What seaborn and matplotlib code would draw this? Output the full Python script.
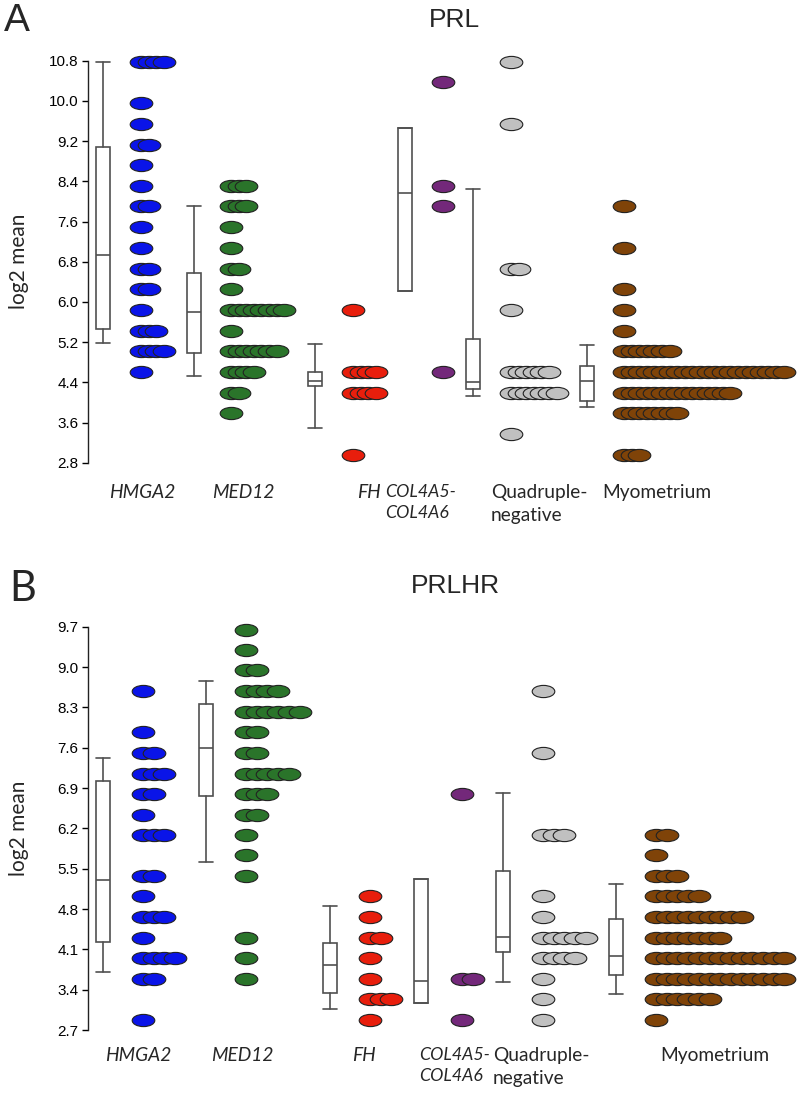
import matplotlib
matplotlib.use("Agg")
import matplotlib.pyplot as plt
from matplotlib.markers import MarkerStyle
from matplotlib.transforms import Affine2D
import seaborn as sns
import pandas as pd

sns.set_style("white")
plt.rcParams["font.family"] = ["Liberation Sans", "DejaVu Sans"]

W, H = 799, 1100

# --- categories / colours
groups = ["HMGA2", "MED12", "FH", "COL4A5-\nCOL4A6", "Quadruple-\nnegative", "Myometrium"]
group_italic = [True, True, True, True, False, False]
group_colors = ["#0A14E8", "#2A742A", "#E81E0C", "#73287A", "#C0C0C0", "#7F4308"]

# --- PRL: (log2 mean, number of samples at that level)
prl_hmga2 = [(10.78, 4), (9.95, 1), (9.54, 1), (9.13, 2), (8.72, 1), (8.31, 1), (7.90, 2),
             (7.49, 1), (7.07, 1), (6.66, 2), (6.25, 2), (5.84, 1), (5.43, 3), (5.02, 4), (4.61, 1)]
prl_med12 = [(8.31, 3), (7.90, 3), (7.49, 1), (7.07, 1), (6.66, 2), (6.25, 1), (5.84, 8),
             (5.43, 1), (5.02, 7), (4.61, 4), (4.19, 2), (3.78, 1)]
prl_fh = [(5.84, 1), (4.61, 4), (4.19, 4), (2.96, 1)]
prl_col = [(10.37, 1), (8.31, 1), (7.90, 1), (4.61, 1)]
prl_quad = [(10.78, 1), (9.54, 1), (6.66, 2), (5.84, 1), (4.61, 6), (4.19, 7), (3.37, 1)]
prl_myo = [(7.90, 1), (7.07, 1), (6.25, 1), (5.84, 1), (5.43, 1), (5.02, 7), (4.61, 22),
           (4.19, 15), (3.78, 8), (2.96, 3)]

# box stats PRL (10th pct, q1, median, q3, 90th pct)
prl_whislo = [5.18, 4.53, 3.49, 6.22, 4.13, 3.91]
prl_q1 = [5.47, 4.99, 4.33, 6.22, 4.27, 4.03]
prl_med = [6.93, 5.80, 4.43, 8.17, 4.41, 4.43]
prl_q3 = [9.08, 6.58, 4.60, 9.47, 5.26, 4.72]
prl_whishi = [10.78, 7.91, 5.17, 9.47, 8.24, 5.15]
prl_ticks = [2.8, 3.6, 4.4, 5.2, 6.0, 6.8, 7.6, 8.4, 9.2, 10.0, 10.8]

# --- PRLHR
prlhr_hmga2 = [(8.58, 1), (7.87, 1), (7.51, 2), (7.15, 3), (6.80, 2), (6.44, 1), (6.09, 3),
               (5.37, 2), (5.02, 1), (4.66, 3), (4.30, 1), (3.95, 4), (3.59, 2), (2.88, 1)]
prlhr_med12 = [(9.65, 1), (9.29, 1), (8.94, 2), (8.58, 4), (8.22, 6), (7.87, 2), (7.51, 2),
               (7.15, 5), (6.80, 3), (6.44, 2), (6.09, 1), (5.73, 1), (5.37, 1), (4.30, 1),
               (3.95, 1), (3.59, 1)]
prlhr_fh = [(5.02, 1), (4.66, 1), (4.30, 2), (3.95, 1), (3.59, 1), (3.23, 3), (2.88, 1)]
prlhr_col = [(6.80, 1), (3.59, 2), (2.88, 1)]
prlhr_quad = [(8.58, 1), (7.51, 1), (6.09, 3), (5.02, 1), (4.66, 1), (4.30, 5), (3.95, 4),
              (3.59, 1), (3.23, 1), (2.88, 1)]
prlhr_myo = [(6.09, 2), (5.73, 1), (5.37, 3), (5.02, 5), (4.66, 9), (4.30, 7), (3.95, 13),
             (3.59, 13), (3.23, 6), (2.88, 1)]

prlhr_whislo = [3.70, 5.62, 3.06, 3.16, 3.53, 3.33]
prlhr_q1 = [4.22, 6.76, 3.34, 3.16, 4.06, 3.66]
prlhr_med = [5.30, 7.60, 3.82, 3.55, 4.32, 3.99]
prlhr_q3 = [7.02, 8.35, 4.21, 5.32, 5.46, 4.63]
prlhr_whishi = [7.42, 8.75, 4.85, 5.32, 6.82, 5.23]
prlhr_ticks = [2.7, 3.4, 4.1, 4.8, 5.5, 6.2, 6.9, 7.6, 8.3, 9.0, 9.7]


def dots_frame(rows_list, dots_x, step):
    recs = []
    for g, rows in enumerate(rows_list):
        for val, n in rows:
            for i in range(n):
                recs.append((g, dots_x[g] + i * step, val))
    return pd.DataFrame(recs, columns=["group", "x", "value"])


def draw_panel(ax, rows_list, stats, ticks, box_x, dots_x, step, labels_x, label_y):
    ell = MarkerStyle("o", transform=Affine2D().scale(1.0, 0.54))
    df = dots_frame(rows_list, dots_x, step)
    for g in range(len(groups)):
        sub = df[df["group"] == g]
        sns.scatterplot(data=sub, x="x", y="value", ax=ax, color=group_colors[g], marker=ell,
                        s=265, edgecolor="#222222", linewidth=0.8, clip_on=False, zorder=3,
                        legend=False)
    whislo, q1, med, q3, whishi = stats
    bstats = [dict(whislo=whislo[i], q1=q1[i], med=med[i], q3=q3[i], whishi=whishi[i], fliers=[])
              for i in range(len(groups))]
    lc = "#505050"
    ax.bxp(bstats, positions=box_x, widths=14, capwidths=14, patch_artist=True, showfliers=False,
           boxprops=dict(facecolor="white", edgecolor=lc, linewidth=1.2),
           medianprops=dict(color=lc, linewidth=1.2),
           whiskerprops=dict(color=lc, linewidth=1.2),
           capprops=dict(color=lc, linewidth=1.2))
    ax.set_xlim(88, W)
    ax.set_ylim(ticks[0], ticks[-1])
    ax.set_xticks([])
    ax.set_yticks(ticks)
    ax.set_yticklabels([f"{t:.1f}" for t in ticks])
    ax.tick_params(axis="y", length=4, width=1, pad=3, labelsize=11, colors="black", left=True)
    for s in ["top", "right", "bottom"]:
        ax.spines[s].set_visible(False)
    ax.spines["left"].set_color("#222222")
    ax.spines["left"].set_linewidth(1)
    ax.set_xlabel("")
    ax.set_ylabel("log2 mean", family=["Lato", "DejaVu Sans"], fontsize=15)
    ax.yaxis.set_label_coords(-0.083, 0.5)
    for g, (lx, ha) in enumerate(labels_x):
        fs = 12.8 if g == 3 else 13.8
        ax.text(lx, label_y, groups[g], ha=ha, va="top", fontsize=fs, linespacing=1.4,
                family=["Lato", "DejaVu Sans"], style="italic" if group_italic[g] else "normal",
                transform=ax.get_xaxis_transform(), multialignment="left")


fig = plt.figure(figsize=(W / 100, H / 100), dpi=100)

# panel A
axA = fig.add_axes([88 / W, (H - 462.7) / H, (W - 88) / W, 402 / H])
draw_panel(axA, [prl_hmga2, prl_med12, prl_fh, prl_col, prl_quad, prl_myo],
           (prl_whislo, prl_q1, prl_med, prl_q3, prl_whishi), prl_ticks,
           box_x=[103, 194, 315, 405, 473, 587], dots_x=[141, 231, 353, 443, 511, 624], step=7.6,
           labels_x=[(142, "center"), (243, "center"), (369, "center"), (385, "left"),
                     (491, "left"), (657, "center")],
           label_y=-(484 - 462.7) / 402)

# panel B
axB = fig.add_axes([88 / W, (H - 1030) / H, (W - 88) / W, 403.3 / H])
draw_panel(axB, [prlhr_hmga2, prlhr_med12, prlhr_fh, prlhr_col, prlhr_quad, prlhr_myo],
           (prlhr_whislo, prlhr_q1, prlhr_med, prlhr_q3, prlhr_whishi), prlhr_ticks,
           box_x=[103, 206, 330, 421, 503, 616], dots_x=[143, 246, 370, 462, 543, 656], step=10.7,
           labels_x=[(138, "center"), (242, "center"), (364, "center"), (419, "left"),
                     (493, "left"), (715, "center")],
           label_y=-(1047 - 1030) / 403.3)

fig.text(454 / W, 1 - 20 / H, "PRL", ha="center", va="center", fontsize=19)
fig.text(455 / W, 1 - 586 / H, "PRLHR", ha="center", va="center", fontsize=19)
fig.text(4 / W, 1 - 21 / H, "A", ha="left", va="center", fontsize=28)
fig.text(9 / W, 1 - 589 / H, "B", ha="left", va="center", fontsize=30,
         family=["Lato", "DejaVu Sans"])

fig.savefig("out.png", dpi=100)
